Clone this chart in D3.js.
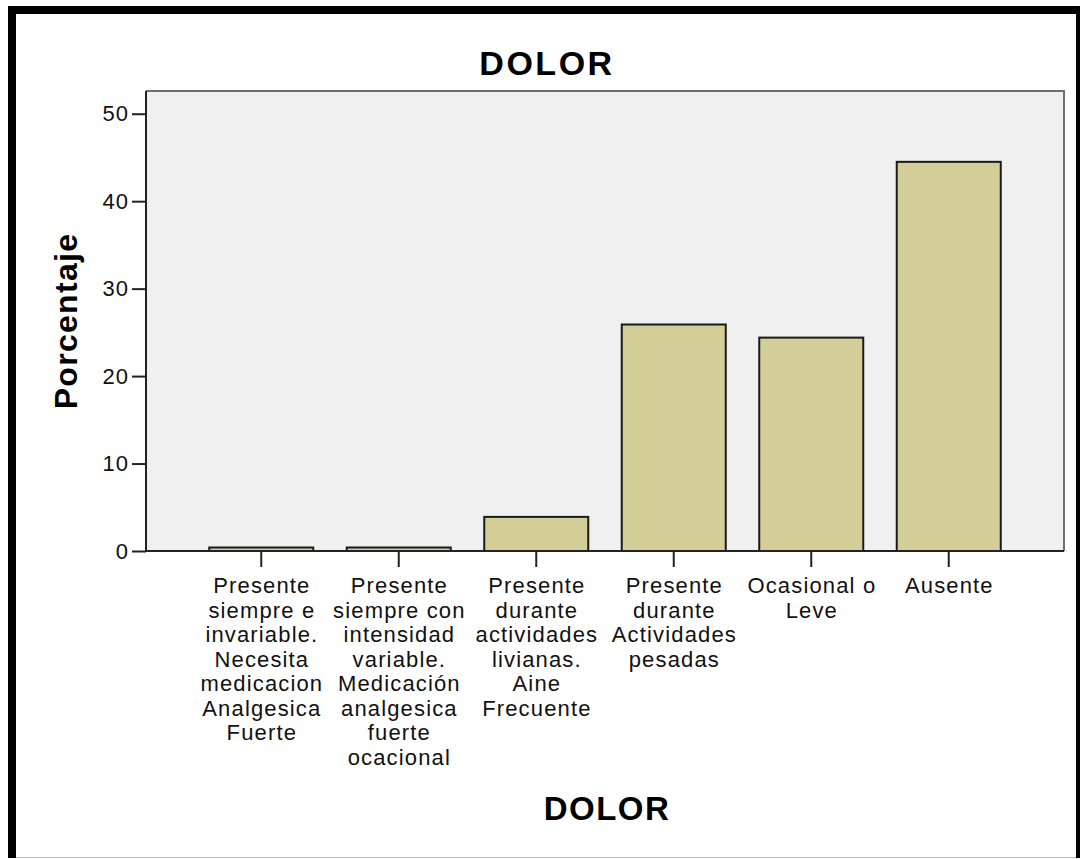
<!DOCTYPE html>
<html><head><meta charset="utf-8">
<script src="https://cdn.jsdelivr.net/npm/d3@7"></script>
<style>body{margin:0;background:#fff}svg{display:block}text{font-family:"Liberation Sans",Arial,sans-serif}</style>
</head><body>
<script>
const categories = [
  "Presente\nsiempre e\ninvariable.\nNecesita\nmedicacion\nAnalgesica\nFuerte",
  "Presente\nsiempre con\nintensidad\nvariable.\nMedicación\nanalgesica\nfuerte\nocacional",
  "Presente\ndurante\nactividades\nlivianas.\nAine\nFrecuente",
  "Presente\ndurante\nActividades\npesadas",
  "Ocasional o\nLeve",
  "Ausente"
];
const values = [0.4, 0.4, 3.9, 25.9, 24.4, 44.5];
const yTicks = [0, 10, 20, 30, 40, 50];
const title = "DOLOR";
const xTitle = "DOLOR";
const yTitle = "Porcentaje";

const W = 1080, H = 859;
const svg = d3.select("body").append("svg").attr("width", W).attr("height", H);

// frame
svg.append("rect").attr("x", 8).attr("y", 6).attr("width", W - 8).attr("height", 852).attr("fill", "#000");
svg.append("rect").attr("x", 16).attr("y", 14).attr("width", 1060).attr("height", 843).attr("fill", "#fff");
svg.append("line").attr("x1", 16).attr("x2", 1076).attr("y1", 857.5).attr("y2", 857.5).attr("stroke", "#bbb");

const pL = 146, pR = 1064, pT = 91, pB = 551;
const x = d3.scaleBand().domain(categories).range([pL, pR]).paddingInner(0.2436).paddingOuter(0.46);
const y = d3.scaleLinear().domain([0, 52.6]).range([pB, pT]);

svg.append("rect").attr("x", pL).attr("y", pT).attr("width", pR - pL).attr("height", pB - pT).attr("fill", "#f0f0f0");
// top/right border
svg.append("path").attr("d", `M${pL},${pT}H${pR}V${pB}`).attr("fill", "none").attr("stroke", "#6e6e6e").attr("stroke-width", 2);

svg.append("g").selectAll("rect").data(values).join("rect")
  .attr("x", (d, i) => x(categories[i]))
  .attr("width", x.bandwidth())
  .attr("y", d => y(d))
  .attr("height", d => y(0) - y(d))
  .attr("fill", "#d3ce97")
  .attr("stroke", "#1a1a1a")
  .attr("stroke-width", 2);

// y axis
const ya = svg.append("g").attr("transform", `translate(${pL},0)`)
  .call(d3.axisLeft(y).tickValues(yTicks).tickSize(14).tickPadding(3).tickSizeOuter(0));
ya.select(".domain").remove();
ya.append("line").attr("x1", 0).attr("x2", 0).attr("y1", pT).attr("y2", pB).attr("stroke", "#222").attr("stroke-width", 2);
ya.selectAll(".tick line").attr("stroke", "#222").attr("stroke-width", 2);
ya.selectAll(".tick text").attr("font-size", 22).attr("fill", "#111").attr("letter-spacing", 1)
  .style("font-family", "Liberation Sans, Arial");

// x axis
const xa = svg.append("g").attr("transform", `translate(0,${pB})`)
  .call(d3.axisBottom(x).tickSize(16).tickSizeOuter(0).tickFormat(""));
xa.select(".domain").remove();
xa.append("line").attr("x1", pL).attr("x2", pR).attr("y1", 0).attr("y2", 0).attr("stroke", "#222").attr("stroke-width", 2);
xa.selectAll(".tick line").attr("stroke", "#222").attr("stroke-width", 2);
xa.selectAll(".tick").each(function(d) {
  const t = d3.select(this).append("text").attr("text-anchor", "middle").attr("fill", "#111")
    .attr("font-size", 22).attr("letter-spacing", 1.15).attr("y", 42);
  d.split("\n").forEach((ln, k) => {
    t.append("tspan").attr("x", 0.6).attr("dy", k === 0 ? 0 : 24.5).text(ln);
  });
});

svg.append("text").attr("x", 547).attr("y", 75).attr("text-anchor", "middle")
  .attr("font-size", 34).attr("letter-spacing", 2.5).attr("font-weight", "bold").attr("fill", "#000").text(title);
svg.append("text").attr("x", 607).attr("y", 820).attr("text-anchor", "middle")
  .attr("font-size", 33).attr("letter-spacing", 1.5).attr("font-weight", "bold").attr("fill", "#000").text(xTitle);
svg.append("text").attr("transform", "translate(77,321) rotate(-90)").attr("text-anchor", "middle")
  .attr("font-size", 32).attr("letter-spacing", 1.3).attr("font-weight", "bold").attr("fill", "#000").text(yTitle);
</script>
</body></html>
